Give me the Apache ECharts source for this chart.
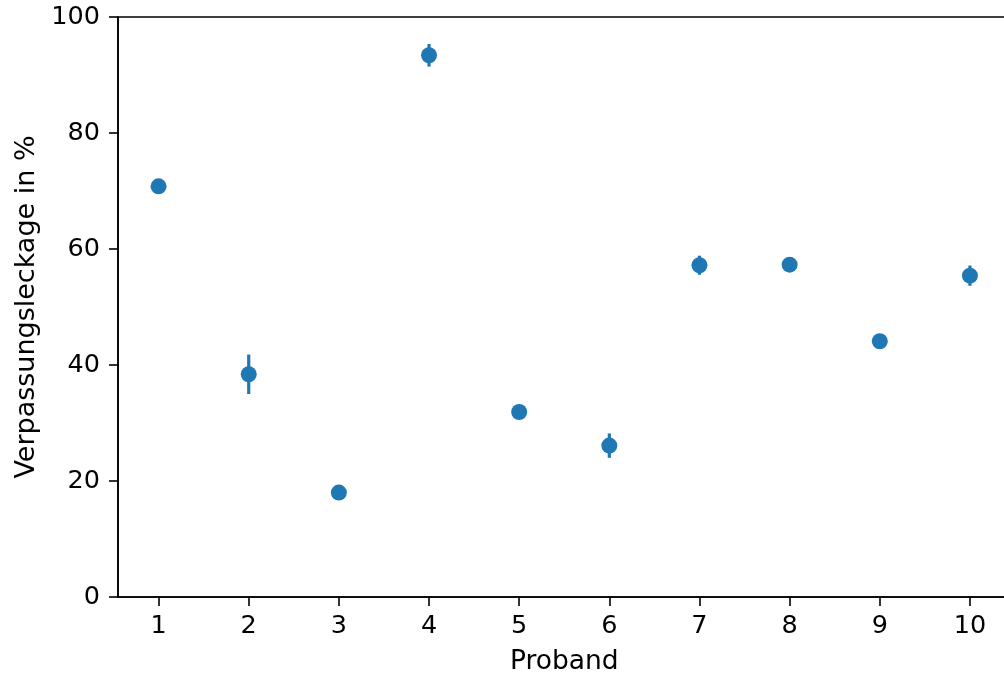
<!DOCTYPE html>
<html>
<head>
<meta charset="utf-8">
<script src="https://cdn.jsdelivr.net/npm/echarts@6/dist/echarts.min.js"></script>
<style>html,body{margin:0;padding:0;background:#fff;}#c{width:1004px;height:682px;}</style>
</head>
<body>
<div id="c"></div>
<script>
const probands = [1, 2, 3, 4, 5, 6, 7, 8, 9, 10];
const leakage = [70.8, 38.4, 18.0, 93.4, 31.9, 26.1, 57.2, 57.3, 44.1, 55.4];
const errHalf = [0, 3.4, 0, 1.95, 0, 2.1, 1.65, 0, 0, 1.75];
const yTicks = [0, 20, 40, 60, 80, 100];

const color = '#1f77b4';
const font = 'DejaVu Sans';
const pts = probands.map((p, i) => [p, leakage[i]]);
const errs = probands.map((p, i) => [p, leakage[i] - errHalf[i], leakage[i] + errHalf[i]]);

const chart = echarts.init(document.getElementById('c'), null, {renderer: 'canvas'});
chart.setOption({
  animation: false,
  backgroundColor: '#fff',
  grid: {left: 118, top: 17, width: 892.5, height: 580, outerBoundsMode: 'none', containLabel: false,
         show: true, borderColor: '#000', borderWidth: 1.6, backgroundColor: 'transparent'},
  xAxis: {
    type: 'value', min: 0.55, max: 10.45,
    name: 'Proband', nameLocation: 'middle', nameGap: 52,
    nameTextStyle: {fontFamily: font, fontSize: 26.5, color: '#000'},
    axisLine: {show: true, onZero: false, lineStyle: {color: '#000', width: 1.6}},
    axisTick: {show: true, length: 9, lineStyle: {color: '#000', width: 1.6}, customValues: probands},
    axisLabel: {fontFamily: font, fontSize: 25.5, color: '#000', margin: 16, customValues: probands},
    splitLine: {show: false}
  },
  yAxis: {
    type: 'value', min: 0, max: 100, interval: 20,
    name: 'Verpassungsleckage in %', nameLocation: 'middle', nameGap: 76, nameRotate: 90,
    nameTextStyle: {fontFamily: font, fontSize: 27, color: '#000'},
    axisLine: {show: true, lineStyle: {color: '#000', width: 1.6}},
    axisTick: {show: true, length: 9, lineStyle: {color: '#000', width: 1.6}},
    axisLabel: {fontFamily: font, fontSize: 25.5, color: '#000', margin: 18, customValues: yTicks},
    splitLine: {show: false}
  },
  series: [
    {
      type: 'custom',
      data: errs,
      renderItem: function (params, api) {
        const x = api.value(0);
        const a = api.coord([x, api.value(1)]);
        const b = api.coord([x, api.value(2)]);
        return {type: 'line', shape: {x1: a[0], y1: a[1], x2: b[0], y2: b[1]}, style: {stroke: color, lineWidth: 3.2}};
      },
      z: 2
    },
    {
      type: 'scatter',
      data: pts,
      symbol: 'circle',
      symbolSize: 16,
      itemStyle: {color: color, opacity: 1},
      z: 3
    }
  ]
});
</script>
</body>
</html>
